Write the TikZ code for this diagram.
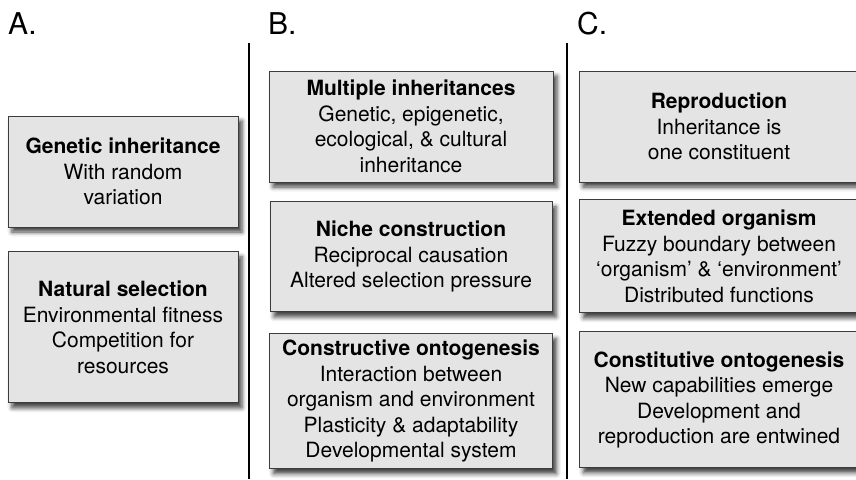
\documentclass[tikz,border=0pt]{standalone}
\usepackage{fontspec}
\setmainfont{TeX Gyre Heros}
\usetikzlibrary{positioning,shadows.blur}
\definecolor{boxgray}{RGB}{228,228,228}
\definecolor{edgegray}{RGB}{60,60,60}

\begin{document}
\begin{tikzpicture}[x=1pt, y=-1pt,
    panel/.style={rectangle, draw=edgegray, line width=0.9pt, fill=boxgray, inner sep=0pt, align=center, font=\fontsize{21}{25.5}\selectfont,
      blur shadow={shadow xshift=4pt, shadow yshift=-5pt, shadow blur radius=4.5pt, shadow opacity=75}},
    tag/.style={font=\fontsize{30}{30}\selectfont, anchor=base west, inner sep=0pt},
    divider/.style={line width=1.1pt},
    node distance=19pt
]
  \useasboundingbox (0,0) rectangle (856,479);
  % column headings
  \node[tag] (tagA) at (8,34) {A.};
  \node[tag] (tagB) at (268,34) {B.};
  \node[tag] (tagC) at (577,34) {C.};
  \coordinate (divAtop) at (249,43);
  \coordinate (divAbot) at (249,479);
  \coordinate (divBtop) at (567,43);
  \coordinate (divBbot) at (567,479);
  \draw[divider] (divAtop) -- (divAbot);
  \draw[divider] (divBtop) -- (divBbot);
  % A
  \node[panel, minimum width=230pt, minimum height=111pt] (genetic) at (123,171.5) {\textbf{Genetic inheritance}\\With random\\variation};
  \node[panel, minimum width=230pt, minimum height=151pt, below=24pt of genetic] (selection) {\textbf{Natural selection}\\Environmental fitness\\Competition for\\resources};
  % B
  \node[panel, minimum width=284pt, minimum height=111pt] (multiple) at (411,126.5) {\textbf{Multiple inheritances}\\Genetic, epigenetic,\\ecological, \& cultural\\inheritance};
  \node[panel, minimum width=282pt, minimum height=110pt, below=of multiple] (niche) {\textbf{Niche construction}\\Reciprocal causation\\Altered selection pressure};
  \node[panel, minimum width=283pt, minimum height=135pt, below=21pt of niche] (constructive) {\textbf{Constructive ontogenesis}\\Interaction between\\organism and environment\\Plasticity \& adaptability\\Developmental system};
  % C
  \node[panel, minimum width=280pt, minimum height=111pt] (reproduction) at (719,126.5) {\textbf{Reproduction}\\Inheritance is\\one constituent};
  \node[panel, minimum width=279pt, minimum height=113pt, below=17pt of reproduction] (extended) {\textbf{Extended organism}\\Fuzzy boundary between\\‘organism’ \& ‘environment’\\Distributed functions};
  \node[panel, minimum width=279pt, minimum height=136pt, below=18pt of extended] (constitutive) {\textbf{Constitutive ontogenesis}\\New capabilities emerge\\Development and\\reproduction are entwined};
\end{tikzpicture}
\end{document}
